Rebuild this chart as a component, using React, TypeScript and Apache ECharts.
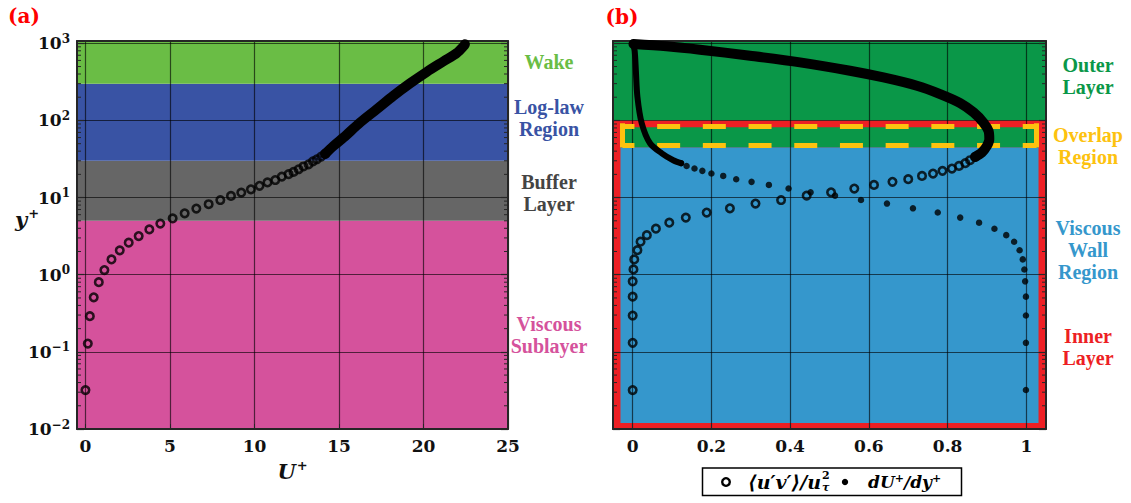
import React, { useEffect, useRef } from 'react';
import * as echarts from 'echarts';

// ---------------- Data ----------------
// Panel (a): mean velocity profile U+ vs y+
const profileU = [0, 0.14, 0.26, 0.49, 0.79, 1.12, 1.54, 2.03, 2.56, 3.15, 3.78, 4.43, 5.16, 5.87, 6.56, 7.29, 7.98, 8.61, 9.22, 9.79, 10.3, 10.77, 11.23, 11.62, 12.02, 12.31, 12.61, 12.9, 13.2, 13.46, 13.69, 13.95, 14.18];
const profileY = [0.032, 0.128, 0.29, 0.51, 0.8, 1.15, 1.58, 2.07, 2.6, 3.17, 3.87, 4.6, 5.38, 6.25, 7.2, 8.2, 9.3, 10.5, 11.6, 12.8, 14.2, 15.7, 16.9, 18.7, 20.1, 21.5, 23.3, 25.3, 27, 29.4, 31.4, 34, 36.8];
// dense part of the profile (markers merge into a thick band)
const profileDenseU = [14.18, 14.68, 15.27, 16.25, 17.24, 18.22, 19.2, 20.2, 21.18, 21.97, 22.4, 22.45];
const profileDenseY = [36.8, 46.8, 60, 94, 140, 209, 302, 427, 583, 748, 931, 970];

// Panel (b): Reynolds shear stress <u'v'>/u_tau^2 and dU+/dy+ vs y+
const uvY = [0.032, 0.131, 0.296, 0.52, 0.82, 1.17, 1.58, 2.08, 2.68, 3.26, 3.95, 4.73, 5.5, 6.4, 7.26, 8.36, 9.3, 10.6, 11.7, 13.1, 14.6, 16, 17.3, 19.1, 20.5, 22.2, 23.8, 25.7, 27.9, 30.5, 33.7];
const uvX = [0, 0, 0, 0, 0, 0.002, 0.004, 0.012, 0.02, 0.036, 0.059, 0.093, 0.135, 0.188, 0.247, 0.312, 0.377, 0.442, 0.504, 0.563, 0.613, 0.66, 0.7, 0.735, 0.763, 0.787, 0.811, 0.829, 0.845, 0.857, 0.87];
const uvDenseX = [0.87, 0.887, 0.9, 0.906, 0.904, 0.891, 0.866, 0.832, 0.781, 0.722, 0.637, 0.552, 0.425, 0.298, 0.171, 0.086, 0.002];
const uvDenseY = [33.7, 38.4, 46.8, 57, 73, 94, 127, 168, 220, 282, 361, 441, 566, 690, 826, 914, 980];

const duY = [0.032, 0.131, 0.296, 0.52, 0.82, 1.17, 1.58, 2.08, 2.68, 3.26, 3.95, 4.73, 5.5, 6.4, 7.26, 8.36, 9.3, 10.6, 11.7, 13.1, 14.6, 16, 17.3, 19.1, 20.5, 22.2, 23.8, 25.7, 27.9];
const duX = [0.999, 0.999, 0.999, 0.999, 0.997, 0.995, 0.991, 0.983, 0.969, 0.949, 0.919, 0.88, 0.832, 0.775, 0.712, 0.646, 0.58, 0.514, 0.452, 0.396, 0.346, 0.302, 0.263, 0.23, 0.2, 0.177, 0.157, 0.137, 0.123];
const duDenseX = [0.123, 0.103, 0.074, 0.044, 0.023, 0.012, 0.008, 0.005, 0.001];
const duDenseY = [27.9, 30.5, 37.5, 50.6, 92, 203, 451, 800, 985];

// Ticks
const xTicksA = [0, 5, 10, 15, 20, 25];
const xTicksB = [0, 0.2, 0.4, 0.6, 0.8, 1];
const yDecades = [-2, -1, 0, 1, 2, 3];
const minorMultipliers = [2, 3, 4, 5, 6, 7, 8, 9];

// Region bands (y+ limits)
const bandEdgesA = [0.01, 5, 30, 300, 1072];
const bandColorsA = ['#d5529c', '#666666', '#3953a4', '#6abd45'];
const labelsA = ['Viscous\nSublayer', 'Buffer\nLayer', 'Log-law\nRegion', 'Wake'];
const labelColorsA = ['#d5529c', '#444444', '#3953a4', '#6abd45'];

const labelsB = ['Outer\nLayer', 'Overlap\nRegion', 'Viscous\nWall\nRegion', 'Inner\nLayer'];
const labelColorsB = ['#0a9748', '#fdc20f', '#3597cc', '#ed1f24'];
const colorOuter = '#0a9748';
const colorInner = '#ed1f24';
const colorWall = '#3597cc';
const colorOverlap = '#fdc20f';

// ---------------- Helpers ----------------
const L = (v: number) => Math.log10(v);
const Y_MIN = -2;
const Y_MAX = 3.03;
const XA = [-0.5, 25];
const XB = [-0.05, 1.05];
const FRAME = '#262626';
const GRID = 'rgba(0,0,0,0.62)';
const SERIF = 'DejaVu Serif';
const LSERIF = 'Liberation Serif';

const minorTicks: number[] = [];
yDecades.slice(0, -1).forEach((d) => minorMultipliers.forEach((m) => minorTicks.push(d + L(m))));

function buildOption() {
  const frameLine = { show: true, onZero: false, lineStyle: { color: FRAME, width: 2 } };

  const tickLabel = {
    fontFamily: SERIF,
    fontWeight: 'bold' as const,
    fontSize: 17,
    color: '#111',
  };

  const xAxis: any[] = [
    {
      type: 'value', gridIndex: 0, position: 'bottom', min: XA[0], max: XA[1], z: 3,
      axisLine: frameLine,
      axisTick: { show: true, inside: true, length: 5, customValues: xTicksA, lineStyle: { color: FRAME } },
      axisLabel: { ...tickLabel, margin: 8, customValues: xTicksA, formatter: (v: number) => String(v) },
      splitLine: { show: true, lineStyle: { color: GRID, width: 1.2 } },
      name: '{i|U}{s|+}', nameLocation: 'middle', nameGap: 30,
      nameTextStyle: {
        rich: {
          i: { fontFamily: SERIF, fontStyle: 'italic', fontWeight: 'bold', fontSize: 21, color: '#111' },
          s: { fontFamily: SERIF, fontWeight: 'bold', fontSize: 13, color: '#111', verticalAlign: 'bottom', padding: [0, 0, 11, 1] },
        },
      },
    },
    {
      type: 'value', gridIndex: 1, position: 'bottom', min: XB[0], max: XB[1], z: 3,
      axisLine: frameLine,
      axisTick: { show: true, inside: true, length: 5, customValues: xTicksB, lineStyle: { color: FRAME } },
      axisLabel: { ...tickLabel, margin: 8, customValues: xTicksB, formatter: (v: number) => String(+v.toFixed(1)) },
      splitLine: { show: true, lineStyle: { color: GRID, width: 1.2 } },
    },
    {
      type: 'value', gridIndex: 0, position: 'top', min: XA[0], max: XA[1], z: 3,
      axisLine: frameLine, axisTick: { show: false }, axisLabel: { show: false }, splitLine: { show: false },
    },
    {
      type: 'value', gridIndex: 1, position: 'top', min: XB[0], max: XB[1], z: 3,
      axisLine: frameLine, axisTick: { show: false }, axisLabel: { show: false }, splitLine: { show: false },
    },
  ];

  const yMajorTick = { show: true, inside: true, length: 7, customValues: yDecades, lineStyle: { color: FRAME, width: 1.2 } };
  const yAxis: any[] = [
    {
      type: 'value', gridIndex: 0, position: 'left', min: Y_MIN, max: Y_MAX, z: 3,
      axisLine: frameLine, axisTick: yMajorTick,
      axisLabel: {
        margin: 7,
        customValues: yDecades,
        formatter: (v: number) => {
          const n = Math.round(v);
          if (Math.abs(v - n) > 1e-6) return '';
          return `{b|10}{s|${n < 0 ? '\u2212' + -n : n}}`;
        },
        rich: {
          b: { ...tickLabel },
          s: { fontFamily: SERIF, fontWeight: 'bold', fontSize: 12, color: '#111', verticalAlign: 'bottom', padding: [0, 0, 9, 0] },
        },
      },
      splitLine: { show: true, lineStyle: { color: GRID, width: 1.2 } },
    },
    {
      type: 'value', gridIndex: 1, position: 'left', min: Y_MIN, max: Y_MAX, z: 3,
      axisLine: frameLine, axisTick: yMajorTick,
      axisLabel: { show: false, customValues: yDecades },
      splitLine: { show: true, lineStyle: { color: GRID, width: 1.2 } },
    },
    {
      type: 'value', gridIndex: 0, position: 'right', min: Y_MIN, max: Y_MAX, z: 3,
      axisLine: frameLine, axisTick: yMajorTick, axisLabel: { show: false, customValues: yDecades }, splitLine: { show: false },
    },
    {
      type: 'value', gridIndex: 1, position: 'right', min: Y_MIN, max: Y_MAX, z: 3,
      axisLine: frameLine, axisTick: yMajorTick, axisLabel: { show: false, customValues: yDecades }, splitLine: { show: false },
    },
  ];

  const area = (x1: number, y1: number, x2: number, y2: number, color: string) => [
    { coord: [x1, L(y1)], itemStyle: { color, opacity: 1, borderWidth: 0 } },
    { coord: [x2, L(y2)] },
  ];

  const bandsA = bandColorsA.map((c, i) => area(XA[0], bandEdgesA[i], XA[1], bandEdgesA[i + 1], c));
  const bandsB = [
    area(XB[0], 100, XB[1], bandEdgesA[bandEdgesA.length - 1], colorOuter),
    area(XB[0], 0.01, XB[1], 100, colorInner),
    area(-0.031, 0.01197, 1.031, 44.9, colorWall),
    area(-0.031, 44.9, 1.031, 81.5, colorOuter),
  ];

  const yelX1 = -0.026, yelX2 = 1.026, yelY1 = 48.3, yelY2 = 85.3;
  const dashed = { color: colorOverlap, width: 5, type: [23, 22.7], dashOffset: 10.6, cap: 'butt' };
  const solid = { color: colorOverlap, width: 5, type: 'solid', cap: 'square' };
  const seg = (x1: number, y1: number, x2: number, y2: number, ls: any) => [
    { coord: [x1, L(y1)], lineStyle: ls },
    { coord: [x2, L(y2)] },
  ];

  const minorTickSeries = (idx: number) => ({
    type: 'custom', xAxisIndex: idx, yAxisIndex: idx, z: 4, silent: true, clip: false,
    data: minorTicks.map((v) => [0, v]),
    renderItem: (params: any, api: any) => {
      const cs = params.coordSys;
      const p = api.coord([api.value(0), api.value(1)]);
      const y = p[1];
      const st = { stroke: FRAME, lineWidth: 1 };
      return {
        type: 'group',
        children: [
          { type: 'line', shape: { x1: cs.x, y1: y, x2: cs.x + 4, y2: y }, style: st },
          { type: 'line', shape: { x1: cs.x + cs.width - 4, y1: y, x2: cs.x + cs.width, y2: y }, style: st },
        ],
      };
    },
  });

  const openCircle = { color: 'rgba(0,0,0,0)', borderColor: '#000', borderWidth: 2.6 };

  const series: any[] = [
    {
      type: 'scatter', xAxisIndex: 0, yAxisIndex: 0, z: 1, silent: true, data: [],
      markArea: { silent: true, data: bandsA },
    },
    {
      type: 'scatter', xAxisIndex: 1, yAxisIndex: 1, z: 1, silent: true, data: [],
      markArea: { silent: true, data: bandsB },
    },
    {
      type: 'scatter', xAxisIndex: 1, yAxisIndex: 1, z: 2, silent: true, data: [],
      markLine: {
        silent: true, symbol: 'none', label: { show: false },
        data: [
          seg(yelX1, yelY2, yelX2, yelY2, dashed),
          seg(yelX1, yelY1, yelX2, yelY1, dashed),
          seg(yelX1, yelY1, yelX1, yelY2, solid),
          seg(yelX2, yelY1, yelX2, yelY2, solid),
        ],
      },
    },
    minorTickSeries(0),
    minorTickSeries(1),
    // Panel (a)
    {
      type: 'line', xAxisIndex: 0, yAxisIndex: 0, z: 5, silent: true, showSymbol: false, smooth: 0.3,
      data: profileDenseU.map((u, i) => [u, L(profileDenseY[i])]),
      lineStyle: { color: '#000', width: 10, cap: 'round', join: 'round' },
    },
    {
      type: 'scatter', xAxisIndex: 0, yAxisIndex: 0, z: 6, silent: true, symbol: 'circle', symbolSize: 7.5,
      data: profileU.map((u, i) => [u, L(profileY[i])]),
      itemStyle: openCircle,
    },
    // Panel (b)
    {
      type: 'line', xAxisIndex: 1, yAxisIndex: 1, z: 5, silent: true, showSymbol: false, smooth: 0.3,
      data: uvDenseX.map((x, i) => [x, L(uvDenseY[i])]),
      lineStyle: { color: '#000', width: 10, cap: 'round', join: 'round' },
    },
    {
      type: 'line', xAxisIndex: 1, yAxisIndex: 1, z: 5, silent: true, showSymbol: false, smooth: 0.3,
      data: duDenseX.map((x, i) => [x, L(duDenseY[i])]),
      lineStyle: { color: '#000', width: 6, cap: 'round', join: 'round' },
    },
    {
      type: 'scatter', xAxisIndex: 1, yAxisIndex: 1, z: 6, silent: true, symbol: 'circle', symbolSize: 7.5,
      data: uvX.map((x, i) => [x, L(uvY[i])]),
      itemStyle: openCircle,
    },
    {
      type: 'scatter', xAxisIndex: 1, yAxisIndex: 1, z: 6, silent: true, symbol: 'circle', symbolSize: 6.5,
      data: duX.map((x, i) => [x, L(duY[i])]),
      itemStyle: { color: '#000' },
    },
  ];

  const labelFont = { fontFamily: LSERIF, fontWeight: 'bold', fontSize: 20, lineHeight: 22 };
  const labelYA = [334.5, 192.5, 118, 62];
  const labelYB = [76, 146, 250, 346.5];

  const graphic: any[] = [
    ...labelsA.map((t, i) => ({
      type: 'text', x: 549, y: labelYA[i], silent: true,
      style: { text: t, ...labelFont, fill: labelColorsA[i], align: 'center', verticalAlign: 'middle' },
    })),
    ...labelsB.map((t, i) => ({
      type: 'text', x: 1088, y: labelYB[i], silent: true,
      style: { text: t, ...labelFont, fill: labelColorsB[i], align: 'center', verticalAlign: 'middle' },
    })),
    {
      type: 'text', x: 24, y: 16, silent: true,
      style: { text: '(a)', fontFamily: SERIF, fontWeight: 'bold', fontSize: 20, fill: '#ff0000', align: 'center', verticalAlign: 'middle' },
    },
    {
      type: 'text', x: 622, y: 17, silent: true,
      style: { text: '(b)', fontFamily: SERIF, fontWeight: 'bold', fontSize: 20, fill: '#ff0000', align: 'center', verticalAlign: 'middle' },
    },
    {
      type: 'text', x: 27, y: 219, silent: true,
      style: {
        text: '{i|y}{s|+}', align: 'center', verticalAlign: 'middle',
        rich: {
          i: { fontFamily: SERIF, fontStyle: 'italic', fontWeight: 'bold', fontSize: 21, fill: '#111', color: '#111' },
          s: { fontFamily: SERIF, fontWeight: 'bold', fontSize: 13, fill: '#111', color: '#111', verticalAlign: 'bottom', padding: [0, 0, 11, 1] },
        },
      },
    },
    // Legend
    {
      type: 'rect', silent: true, z: 10,
      shape: { x: 702.5, y: 468, width: 259, height: 27.5 },
      style: { fill: '#fff', stroke: '#000', lineWidth: 1.5 },
    },
    {
      type: 'circle', silent: true, z: 11,
      shape: { cx: 726, cy: 482, r: 3.8 },
      style: { fill: 'none', stroke: '#000', lineWidth: 2.4 },
    },
    {
      type: 'text', x: 748, y: 482, silent: true, z: 11,
      style: { text: '\u27E8u\u2032v\u2032\u27E9/u', fontFamily: SERIF, fontStyle: 'italic', fontWeight: 'bold', fontSize: 19, fill: '#000', align: 'left', verticalAlign: 'middle' },
    },
    {
      type: 'text', x: 822, y: 475, silent: true, z: 11,
      style: { text: '2', fontFamily: SERIF, fontWeight: 'bold', fontSize: 11, fill: '#000', align: 'left', verticalAlign: 'middle' },
    },
    {
      type: 'text', x: 822, y: 487, silent: true, z: 11,
      style: { text: '\u03C4', fontFamily: SERIF, fontStyle: 'italic', fontWeight: 'bold', fontSize: 11, fill: '#000', align: 'left', verticalAlign: 'middle' },
    },
    {
      type: 'circle', silent: true, z: 11,
      shape: { cx: 845, cy: 482, r: 3.2 },
      style: { fill: '#000' },
    },
    {
      type: 'text', x: 868, y: 482, silent: true, z: 11,
      style: {
        text: '{i|dU}{s|+}{i|/dy}{s|+}', align: 'left', verticalAlign: 'middle',
        rich: {
          i: { fontFamily: SERIF, fontStyle: 'italic', fontWeight: 'bold', fontSize: 17, fill: '#000', color: '#000' },
          s: { fontFamily: SERIF, fontWeight: 'bold', fontSize: 11, fill: '#000', color: '#000', verticalAlign: 'bottom', padding: [0, 0, 8, 0] },
        },
      },
    },
  ];

  return {
    animation: false,
    backgroundColor: '#ffffff',
    grid: [
      { left: 77, top: 41, width: 431, height: 388, containLabel: false },
      { left: 613, top: 41, width: 433, height: 388, containLabel: false },
    ],
    xAxis,
    yAxis,
    series,
    graphic,
  };
}

export default function App() {
  const ref = useRef<HTMLDivElement>(null);
  useEffect(() => {
    if (!ref.current) return;
    const chart = echarts.init(ref.current, null, { renderer: 'svg', width: 1131, height: 503 });
    chart.setOption(buildOption() as any);
    return () => chart.dispose();
  }, []);
  return (
    <div
      ref={ref}
      style={{ position: 'fixed', left: 0, top: 0, width: 1131, height: 503, background: '#fff' }}
    />
  );
}
